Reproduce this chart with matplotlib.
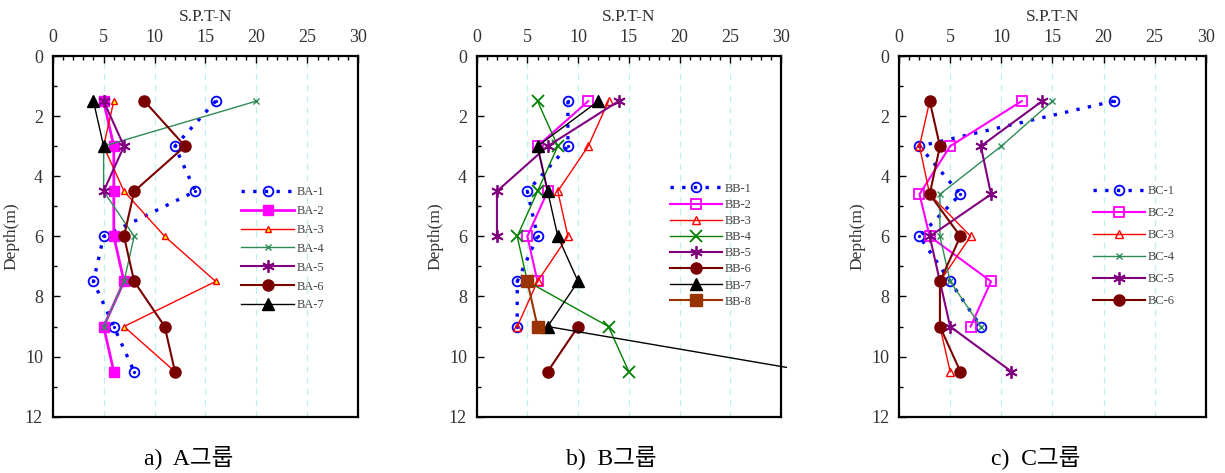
import matplotlib
matplotlib.use("Agg")
import matplotlib.pyplot as plt
from matplotlib.transforms import Bbox, TransformedBbox

# depth (m) of each SPT test
depth_a = [1.5, 3, 4.5, 6, 7.5, 9, 10.5]
depth_b = [1.5, 3, 4.5, 6, 7.5, 9, 10.5]
depth_c = [1.5, 3, 4.6, 6, 7.5, 9, 10.5]

# group A  (N values, top to bottom)
ba1 = [16, 12, 14, 5, 4, 6, 8]
ba2 = [5, 6, 6, 6, 7, 5, 6]
ba3 = [6, 5, 7, 11, 16, 7, 12]
ba4 = [20, 5, 5, 8, 7, 5]
ba5 = [5, 7, 5]
ba6 = [9, 13, 8, 7, 8, 11, 12]
ba7 = [4, 5]

# group B
bb1 = [9, 9, 5, 6, 4, 4]
bb2 = [11, 6, 7, 5, 6]
bb3 = [13, 11, 8, 9, 6, 4]
bb4 = [6, 8, 6, 4, 5, 13, 15]
bb5 = [14, 7, 2, 2]
bb6_depth = [9, 10.5]
bb6 = [10, 7]
bb7 = [12, 6, 7, 8, 10, 7, 33]
bb8_depth = [7.5, 9]
bb8 = [5, 6]

# group C
bc1 = [21, 2, 6, 2, 5, 8]
bc2 = [12, 5, 2, 3, 9, 7]
bc3 = [3, 2, 3, 7, 4, 4, 5]
bc4 = [15, 10, 4, 4, 5, 8]
bc5 = [14, 8, 9, 3, 4, 5, 11]
bc6 = [3, 4, 3, 6, 4, 4, 6]

x_ticks = [0, 5, 10, 15, 20, 25, 30]
y_ticks = [0, 2, 4, 6, 8, 10, 12]
captions = ["a)  A그룹", "b)  B그룹", "c)  C그룹"]

SERIF = "Liberation Serif"
CAP_FONT = ["Liberation Serif", "Noto Sans CJK KR"]

fig = plt.figure(figsize=(12.25, 4.73), dpi=100)
ax_pos = [[0.043, 0.119, 0.2495, 0.7626],
          [0.3891, 0.119, 0.2484, 0.7626],
          [0.7339, 0.119, 0.2504, 0.7626]]
axes = [fig.add_axes(p) for p in ax_pos]


def setup(ax):
    ax.set_xlim(0, 30)
    ax.set_ylim(12, 0)
    ax.xaxis.tick_top()
    ax.xaxis.set_label_position("top")
    ax.set_xticks(x_ticks)
    ax.set_yticks(y_ticks)
    ax.set_xticks(range(0, 31), minor=True)
    ax.set_yticks(range(0, 13), minor=True)
    ax.tick_params(which="both", direction="in", top=True, bottom=False,
                   left=True, right=False, width=1)
    ax.tick_params(which="major", length=5, labelsize=13, pad=7)
    ax.tick_params(which="minor", length=3)
    for lab in ax.get_xticklabels() + ax.get_yticklabels():
        lab.set_fontfamily(SERIF)
        lab.set_color("#333333")
    ax.set_xlabel("S.P.T-N", fontsize=12.5, family=SERIF, labelpad=6, color="#333333")
    ax.set_ylabel("Depth(m)", fontsize=12.5, family=SERIF, labelpad=4, color="#333333")
    for x in x_ticks[1:-1]:
        ax.axvline(x, color="#bff0f0", lw=0.9, ls=(0, (5, 4)), zorder=0)
    for s in ax.spines.values():
        s.set_linewidth(1.6)
        s.set_color("black")


def center_dots(ax, n, d):
    ax.plot(n, d[:len(n)], ls="none", marker="o", ms=1.3, color="blue", label="_nolegend_")


def legend(ax, x, y, spacing):
    lg = ax.legend(loc="upper left", bbox_to_anchor=(x, y), bbox_transform=fig.transFigure,
                   frameon=False, prop={"family": SERIF, "size": 9}, handlelength=4.2,
                   handletextpad=0.2, labelspacing=spacing, borderaxespad=0)
    for t in lg.get_texts():
        t.set_color("#444444")


# ---- panel A
ax = axes[0]
setup(ax)
ax.plot(ba1, depth_a, color="blue", ls=(0, (1, 2.5)), lw=2.4, marker="o", mfc="none", mew=1.3, ms=7, label="BA-1")
center_dots(ax, ba1, depth_a)
ax.plot(ba2, depth_a, color="#ff00ff", lw=2, marker="s", ms=7, label="BA-2")
ax.plot(ba3, depth_a, color="red", lw=1, marker="^", mfc="yellow", mec="red", mew=1, ms=5, label="BA-3")
ax.plot(ba4, depth_a[:len(ba4)], color="#2e8b57", lw=1, marker="x", ms=5, mew=1, label="BA-4")
ax.plot(ba5, depth_a[:len(ba5)], color="#800080", lw=1.5, marker=(6, 2, 0), ms=9, mew=1.3, label="BA-5")
ax.plot(ba6, depth_a, color="#7a0000", lw=1.5, marker="o", ms=8, label="BA-6")
ax.plot(ba7, depth_a[:len(ba7)], color="black", lw=1, marker="^", ms=8, label="BA-7")
legend(ax, 0.193, 0.617, 0.55)

# ---- panel B
ax = axes[1]
setup(ax)
ax.plot(bb1, depth_b[:len(bb1)], color="blue", ls=(0, (1, 2.5)), lw=2.4, marker="o", mfc="none", mew=1.3, ms=7, label="BB-1")
center_dots(ax, bb1, depth_b)
ax.plot(bb2, depth_b[:len(bb2)], color="#ff00ff", lw=1.5, marker="s", mfc="none", mew=1.3, ms=7, label="BB-2")
ax.plot(bb3, depth_b[:len(bb3)], color="red", lw=1, marker="^", mfc="none", mew=1, ms=6, label="BB-3")
ax.plot(bb4, depth_b, color="green", lw=1, marker="x", ms=8, mew=1.3, label="BB-4")
ax.plot(bb5, depth_b[:len(bb5)], color="#800080", lw=1.5, marker=(6, 2, 0), ms=9, mew=1.3, label="BB-5")
ax.plot(bb6, bb6_depth, color="#7a0000", lw=1.5, marker="o", ms=8, label="BB-6")
l7, = ax.plot(bb7, depth_b, color="black", lw=1, marker="^", ms=8, label="BB-7")
l7.set_clip_box(TransformedBbox(Bbox([[0, 0], [1.02, 1]]), ax.transAxes))
ax.plot(bb8, bb8_depth, color="#993300", lw=1.5, marker="s", ms=8, label="BB-8")
legend(ax, 0.5425, 0.624, 0.33)

# ---- panel C
ax = axes[2]
setup(ax)
ax.plot(bc1, depth_c[:len(bc1)], color="blue", ls=(0, (1, 2.5)), lw=2.4, marker="o", mfc="none", mew=1.3, ms=7, label="BC-1")
center_dots(ax, bc1, depth_c)
ax.plot(bc2, depth_c[:len(bc2)], color="#ff00ff", lw=1.5, marker="s", mfc="none", mew=1.3, ms=7, label="BC-2")
ax.plot(bc3, depth_c, color="red", lw=1, marker="^", mfc="none", mew=1, ms=6, label="BC-3")
ax.plot(bc4, depth_c[:len(bc4)], color="#2e8b57", lw=1, marker="x", ms=5, mew=1, label="BC-4")
ax.plot(bc5, depth_c, color="#800080", lw=1.5, marker=(6, 2, 0), ms=9, mew=1.3, label="BC-5")
ax.plot(bc6, depth_c, color="#7a0000", lw=1.5, marker="o", ms=8, label="BC-6")
legend(ax, 0.888, 0.619, 0.8)

# captions under each panel
for p, cap in zip(ax_pos, captions):
    fig.text(p[0] + p[2] / 2 - 0.014, 0.018, cap, ha="center", va="baseline",
             fontsize=17, family=CAP_FONT)

fig.savefig("out.png", dpi=100)
